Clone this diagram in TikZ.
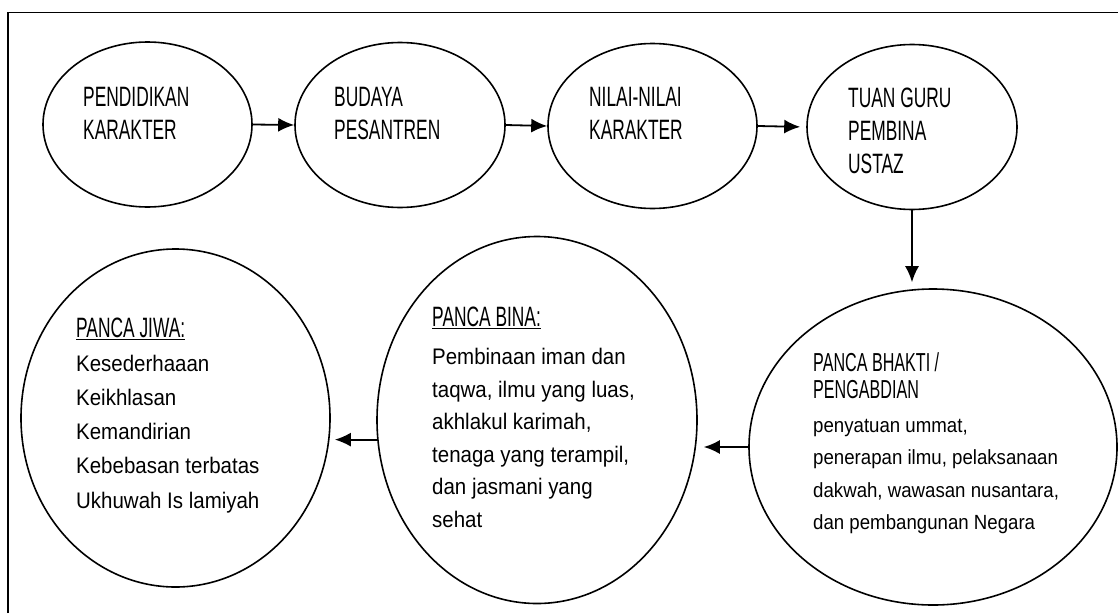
\documentclass[tikz,border=0pt]{standalone}
\usepackage{fontspec}
\setmainfont[FakeStretch=0.91]{Liberation Sans}
\newfontfamily\capsfont[FakeStretch=0.62]{Liberation Sans}
\usetikzlibrary{shapes.geometric,arrows.meta}

\begin{document}
\begin{tikzpicture}[x=1pt,y=-1pt,
        bubble/.style={draw, ellipse, line width=1.6pt, inner sep=0pt},
        flow/.style={-{Latex[length=16pt,width=14pt]}, line width=1.8pt},
        txt/.style={anchor=north west, inner sep=0pt, align=left}]

        \useasboundingbox (0,0) rectangle (1118,613);

        % frame
        \draw[line width=1.8pt] (8,613) -- (8,12.5) -- (1118,12.5);

        % top row
        \node[bubble, minimum width=209pt, minimum height=165pt] (pk) at (147.5,124.5) {};
        \node[bubble, minimum width=210pt, minimum height=165pt] (bp) at (400,125) {};
        \node[bubble, minimum width=209pt, minimum height=165pt] (nk) at (652.5,126) {};
        \node[bubble, minimum width=210pt, minimum height=165pt] (tg) at (912,127) {};

        \node[txt, font=\capsfont\fontsize{28}{33}\selectfont] (pk-txt) at (83,87) {PENDIDIKAN\\KARAKTER};
        \node[txt, font=\capsfont\fontsize{28}{33}\selectfont] (bp-txt) at (334,87) {BUDAYA\\PESANTREN};
        \node[txt, font=\capsfont\fontsize{28}{33}\selectfont] (nk-txt) at (589,87) {NILAI-NILAI\\KARAKTER};
        \node[txt, font=\capsfont\fontsize{28}{33}\selectfont] (tg-txt) at (848,88) {TUAN GURU\\PEMBINA\\USTAZ};

        % bottom row
        \node[bubble, minimum width=309pt, minimum height=338pt] (pj) at (175.5,418) {};
        \node[bubble, minimum width=320pt, minimum height=367pt] (pn) at (537,420) {};
        \node[bubble, minimum width=368pt, minimum height=316pt] (pb) at (933,447) {};

        \node[txt, font=\fontsize{22.5}{34.3}\selectfont] (pj-txt) at (76,318)
            {{\capsfont\fontsize{28}{34.3}\selectfont\underline{PANCA JIWA:}}\\[-1pt]
             Kesederhaaan\\Keikhlasan\\Kemandirian\\Kebebasan terbatas\\Ukhuwah Is lamiyah};
        \node[txt, font=\fontsize{22.5}{32.5}\selectfont] (pn-txt) at (432,307)
            {{\capsfont\fontsize{28}{32.5}\selectfont\underline{PANCA BINA:}}\\[5.5pt]
             Pembinaan iman dan\\taqwa, ilmu yang luas,\\akhlakul karimah,\\tenaga yang terampil,\\dan jasmani yang\\sehat};
        \node[txt, font=\fontsize{20.5}{32.5}\selectfont] (pb-txt) at (813,352)
            {{\capsfont\fontsize{26}{32.5}\selectfont PANCA BHAKTI /}\\[-5.5pt]
             {\capsfont\fontsize{26}{32.5}\selectfont PENGABDIAN}\\[1.5pt]
             penyatuan ummat,\\penerapan ilmu, pelaksanaan\\dakwah, wawasan nusantara,\\dan pembangunan Negara};

        % arrows
        \draw[flow] (pk.east) -- (bp.west);
        \draw[flow] (bp.east) -- (nk.west);
        \draw[flow, shorten >=6pt] (nk.east) -- (tg.west);
        \draw[flow, shorten >=6pt] (tg.south) -- (tg.south |- pb.north);
        \draw[flow, shorten >=6pt] (pb.west) -- (pb.west -| pn.east);
        \draw[flow, shorten >=4pt] (pn.187) -- (pn.187 -| pj.east);
    \end{tikzpicture}
\end{document}
